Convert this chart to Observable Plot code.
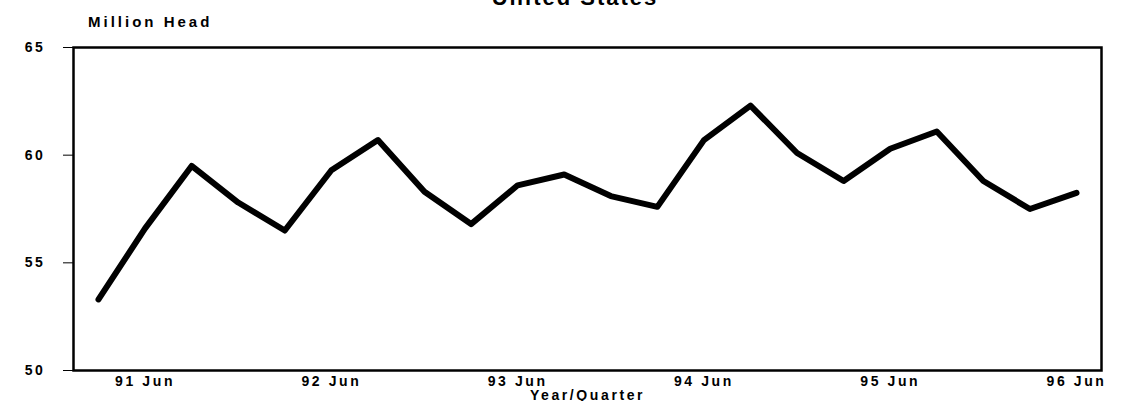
<!DOCTYPE html>
<html>
<head>
<meta charset="utf-8">
<script src="https://cdn.jsdelivr.net/npm/d3@7"></script>
<script src="https://cdn.jsdelivr.net/npm/@observablehq/plot@0.6"></script>
<style>
  html, body { margin: 0; padding: 0; background: #fff; overflow: hidden; }
  #wrap { position: relative; width: 1125px; height: 401px; font-family: "Liberation Sans", Arial, sans-serif; }
  #title { position: absolute; z-index: 2; left: 0; width: 1150px; top: -13px; text-align: center; font-size: 22px; font-weight: bold; letter-spacing: 2px; line-height: 22px; }
  #ylab { position: absolute; z-index: 2; left: 88px; top: 14px; font-size: 15px; font-weight: bold; letter-spacing: 3px; line-height: 16px; }
  #chart { position: absolute; z-index: 1; left: 0; top: 0; }
</style>
</head>
<body>
<div id="wrap">
  <div id="chart"></div>
  <div id="title">United States</div>
  <div id="ylab">Million Head</div>
</div>
<script>
const quarters = [
  "91 Mar","91 Jun","91 Sep","91 Dec",
  "92 Mar","92 Jun","92 Sep","92 Dec",
  "93 Mar","93 Jun","93 Sep","93 Dec",
  "94 Mar","94 Jun","94 Sep","94 Dec",
  "95 Mar","95 Jun","95 Sep","95 Dec",
  "96 Mar","96 Jun"
];
const inventory = [
  53.3, 56.6, 59.5, 57.8,
  56.5, 59.3, 60.7, 58.3,
  56.8, 58.6, 59.1, 58.1,
  57.6, 60.7, 62.3, 60.1,
  58.8, 60.3, 61.1, 58.8,
  57.5, 58.25
];
const yTicks = [50, 55, 60, 65];
const xTickLabels = ["91 Jun","92 Jun","93 Jun","94 Jun","95 Jun","96 Jun"];

const data = quarters.map((q, i) => ({q, v: inventory[i]}));

const chart = Plot.plot({
  width: 1125,
  height: 401,
  marginTop: 47,
  marginBottom: 31,
  marginLeft: 73,
  marginRight: 24,
  style: {fontFamily: "'Liberation Sans', Arial, sans-serif", fontSize: "14px", fontWeight: "bold", background: "transparent", color: "#000"},
  x: {type: "point", domain: quarters, padding: 0.537, round: false, ticks: xTickLabels, tickSize: 0, tickPadding: 6, label: "Year/Quarter", labelAnchor: "center", labelOffset: 29},
  y: {domain: [50, 65], ticks: yTicks, tickSize: 10, tickPadding: 18, label: null},
  marks: [
    Plot.frame({stroke: "#000", strokeWidth: 2.5}),
    Plot.line(data, {x: "q", y: "v", stroke: "#000", strokeWidth: 6, strokeLinejoin: "round", strokeLinecap: "round"})
  ]
});
chart.querySelectorAll("text").forEach(t => t.style.letterSpacing = "2.6px");
document.getElementById("chart").appendChild(chart);
</script>
</body>
</html>
